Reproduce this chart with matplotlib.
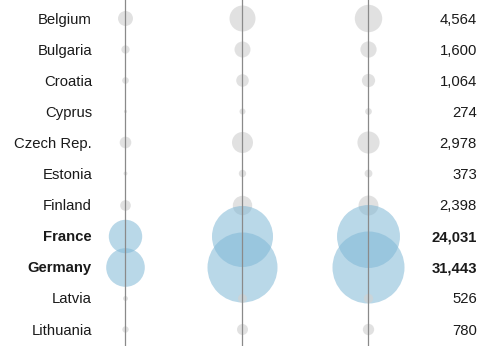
import matplotlib.pyplot as plt
import numpy as np

countries = ["Belgium", "Bulgaria", "Croatia", "Cyprus", "Czech Rep.", "Estonia",
             "Finland", "France", "Germany", "Latvia", "Lithuania"]
col1 = [1360, 420, 270, 60, 820, 90, 690, 6770, 9040, 150, 250]
col2 = [4100, 1550, 960, 220, 2680, 330, 2280, 22570, 29700, 490, 735]
col3 = [4564, 1600, 1064, 274, 2978, 373, 2398, 24031, 31443, 526, 780]
highlight = ["France", "Germany"]

plt.rcParams['font.family'] = ['Liberation Sans', 'DejaVu Sans']

fig = plt.figure(figsize=(4.8, 3.46), dpi=100)
ax = fig.add_axes([0, 0, 1, 1])
ax.set_xlim(0, 480)
ax.set_ylim(10.547, -0.579)
ax.axis('off')

rows = np.arange(len(countries))
col_x = [125, 242, 368]
scale = 0.0855  # points^2 per unit

for cx, vals in zip(col_x, [col1, col2, col3]):
    colors = ['#80b8d6' if c in highlight else '#d2d2d2' for c in countries]
    alphas = [0.55 if c in highlight else 0.65 for c in countries]
    for r, v, c, a in zip(rows, vals, colors, alphas):
        ax.scatter(cx, r, s=scale * v, color=c, alpha=a, linewidths=0, zorder=2)
    ax.axvline(cx, color='#8a8a8a', lw=0.9, zorder=3)

for r, c, v in zip(rows, countries, col3):
    w = 'bold' if c in highlight else 'normal'
    ax.text(92, r + 0.05, c, ha='right', va='center', fontsize=10.7, fontweight=w, color='#1a1a1a')
    ax.text(477, r + 0.05, f"{v:,}", ha='right', va='center', fontsize=10.7, fontweight=w, color='#1a1a1a')

fig.savefig('out.png', dpi=100)
